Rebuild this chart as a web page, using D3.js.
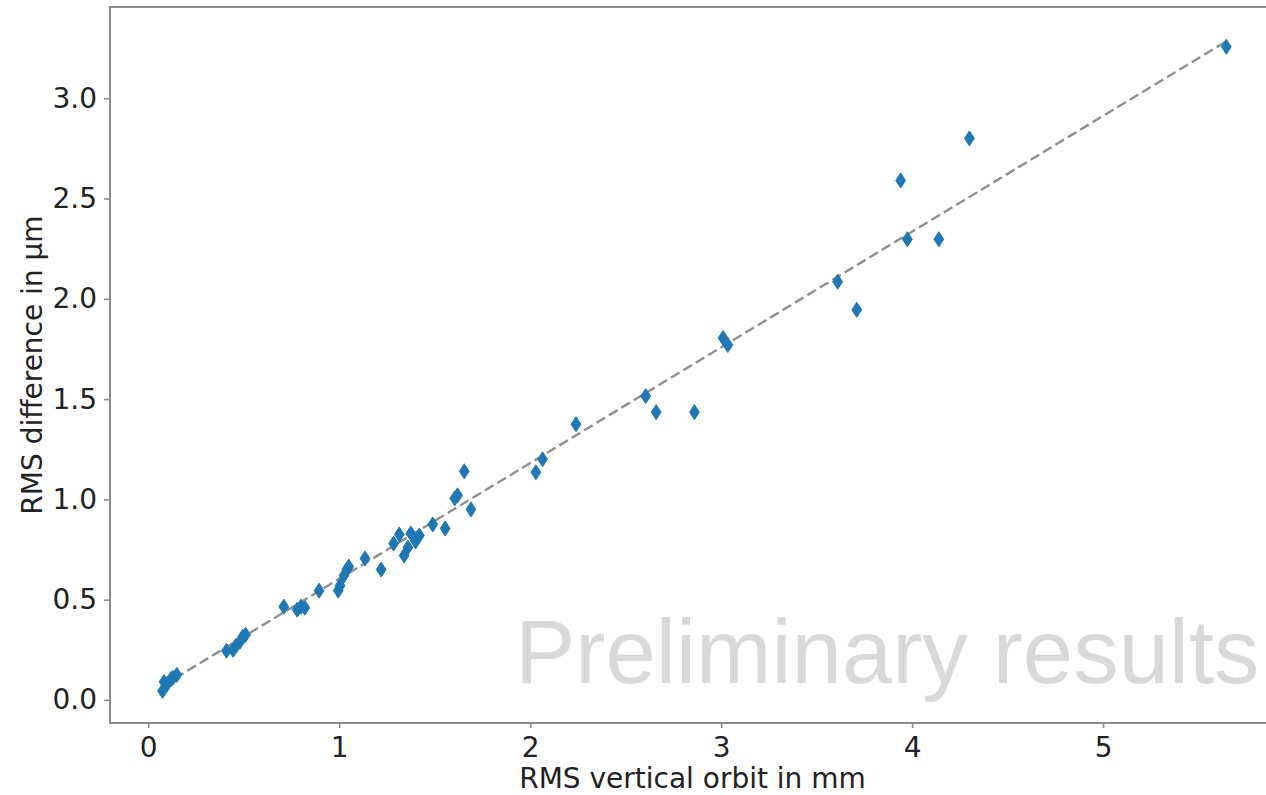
<!DOCTYPE html>
<html>
<head>
<meta charset="utf-8">
<script src="https://cdn.jsdelivr.net/npm/d3@7"></script>
<style>
  html, body { margin: 0; padding: 0; background: #fff; }
  svg { display: block; }
  text { font-family: "DejaVu Sans", sans-serif; fill: #222; }
</style>
</head>
<body>
<svg id="chart" width="1266" height="795"></svg>
<script>
// RMS vertical orbit (mm) for each measurement
const orbitRms = [
  0.075, 0.083, 0.10, 0.12, 0.13, 0.15,
  0.41, 0.445, 0.46, 0.48, 0.495, 0.51,
  0.71, 0.78, 0.80, 0.82, 0.895, 0.995, 1.005, 1.025, 1.04, 1.05,
  1.135, 1.22, 1.285, 1.315, 1.34, 1.36, 1.375, 1.40, 1.42,
  1.49, 1.555, 1.605, 1.62, 1.655, 1.69,
  2.03, 2.065, 2.24, 2.605, 2.66, 2.86, 3.01, 3.035,
  3.61, 3.71, 3.94, 3.975, 4.14, 4.30, 5.645
];
// RMS difference (µm) for the same measurements
const diffRms = [
  0.045, 0.09, 0.08, 0.105, 0.11, 0.125,
  0.245, 0.25, 0.27, 0.29, 0.315, 0.325,
  0.465, 0.45, 0.465, 0.46, 0.545, 0.545, 0.57, 0.62, 0.65, 0.665,
  0.705, 0.65, 0.78, 0.825, 0.72, 0.76, 0.83, 0.79, 0.82,
  0.875, 0.855, 1.005, 1.02, 1.14, 0.95,
  1.135, 1.2, 1.375, 1.515, 1.435, 1.435, 1.805, 1.77,
  2.085, 1.945, 2.59, 2.297, 2.297, 2.80, 3.257
];
// Linear fit through the measurements: diff = slope * orbit + intercept
const fitSlope = 0.577;
const fitIntercept = 0.027;

const xTicks = [0, 1, 2, 3, 4, 5];
const yTicks = [0.0, 0.5, 1.0, 1.5, 2.0, 2.5, 3.0];

const xLabel = "RMS vertical orbit in mm";
const yLabel = "RMS difference in \u03bcm";
const watermark = "Preliminary results";

const points = orbitRms.map((v, i) => ({ x: v, y: diffRms[i] }));

const svg = d3.select("#chart");
const plot = { left: 110, top: 7, right: 1275, bottom: 723 };

const x = d3.scaleLinear().domain([-0.2, 5.9]).range([plot.left, plot.right]);
const y = d3.scaleLinear().domain([-0.115, 3.455]).range([plot.bottom, plot.top]);

const axisColor = "#8c8c8c";
const fontSize = 28;

// Watermark behind the data
svg.append("text")
  .attr("x", 515)
  .attr("y", 683)
  .style("font-family", "'Liberation Sans', Arial, sans-serif")
  .style("font-size", "90.5px")
  .style("fill", "#d9d9d9")
  .text(watermark);

// Fit line
const xExt = d3.extent(orbitRms);
svg.append("line")
  .attr("x1", x(xExt[0]))
  .attr("y1", y(fitSlope * xExt[0] + fitIntercept))
  .attr("x2", x(xExt[1]))
  .attr("y2", y(fitSlope * xExt[1] + fitIntercept))
  .attr("stroke", "#8f8f8f")
  .attr("stroke-width", 2.4)
  .attr("stroke-dasharray", "10,4.5");

// Thin diamond markers
const hh = 7.5, hw = 4.9;
const diamond = `M0,${-hh}L${hw},0L0,${hh}L${-hw},0Z`;
svg.append("g")
  .selectAll("path")
  .data(points)
  .join("path")
  .attr("transform", d => `translate(${x(d.x)},${y(d.y)})`)
  .attr("d", diamond)
  .attr("fill", "#1f77b4")
  .attr("stroke", "#1f77b4")
  .attr("stroke-width", 1);

// Axes
const xAxis = svg.append("g")
  .attr("transform", `translate(0,${plot.bottom})`)
  .call(d3.axisBottom(x).tickValues(xTicks).tickFormat(d3.format("d")).tickSize(5).tickPadding(9));
const yAxis = svg.append("g")
  .attr("transform", `translate(${plot.left},0)`)
  .call(d3.axisLeft(y).tickValues(yTicks).tickFormat(d3.format(".1f")).tickSize(6).tickPadding(7));

[xAxis, yAxis].forEach(g => {
  g.select(".domain").remove();
  g.selectAll(".tick line").attr("stroke", axisColor).attr("stroke-width", 1.6);
  g.selectAll(".tick text")
    .style("font-family", "'DejaVu Sans', sans-serif")
    .style("font-size", fontSize + "px")
    .style("fill", "#222");
});

// Frame
svg.append("rect")
  .attr("x", plot.left)
  .attr("y", plot.top)
  .attr("width", plot.right - plot.left)
  .attr("height", plot.bottom - plot.top)
  .attr("fill", "none")
  .attr("stroke", axisColor)
  .attr("stroke-width", 2);

// Axis titles
svg.append("text")
  .attr("x", (plot.left + plot.right) / 2)
  .attr("y", 788)
  .attr("text-anchor", "middle")
  .style("font-size", fontSize + "px")
  .text(xLabel);

svg.append("text")
  .attr("transform", `translate(42,${(plot.top + plot.bottom) / 2}) rotate(-90)`)
  .attr("text-anchor", "middle")
  .style("font-size", fontSize + "px")
  .text(yLabel);
</script>
</body>
</html>
